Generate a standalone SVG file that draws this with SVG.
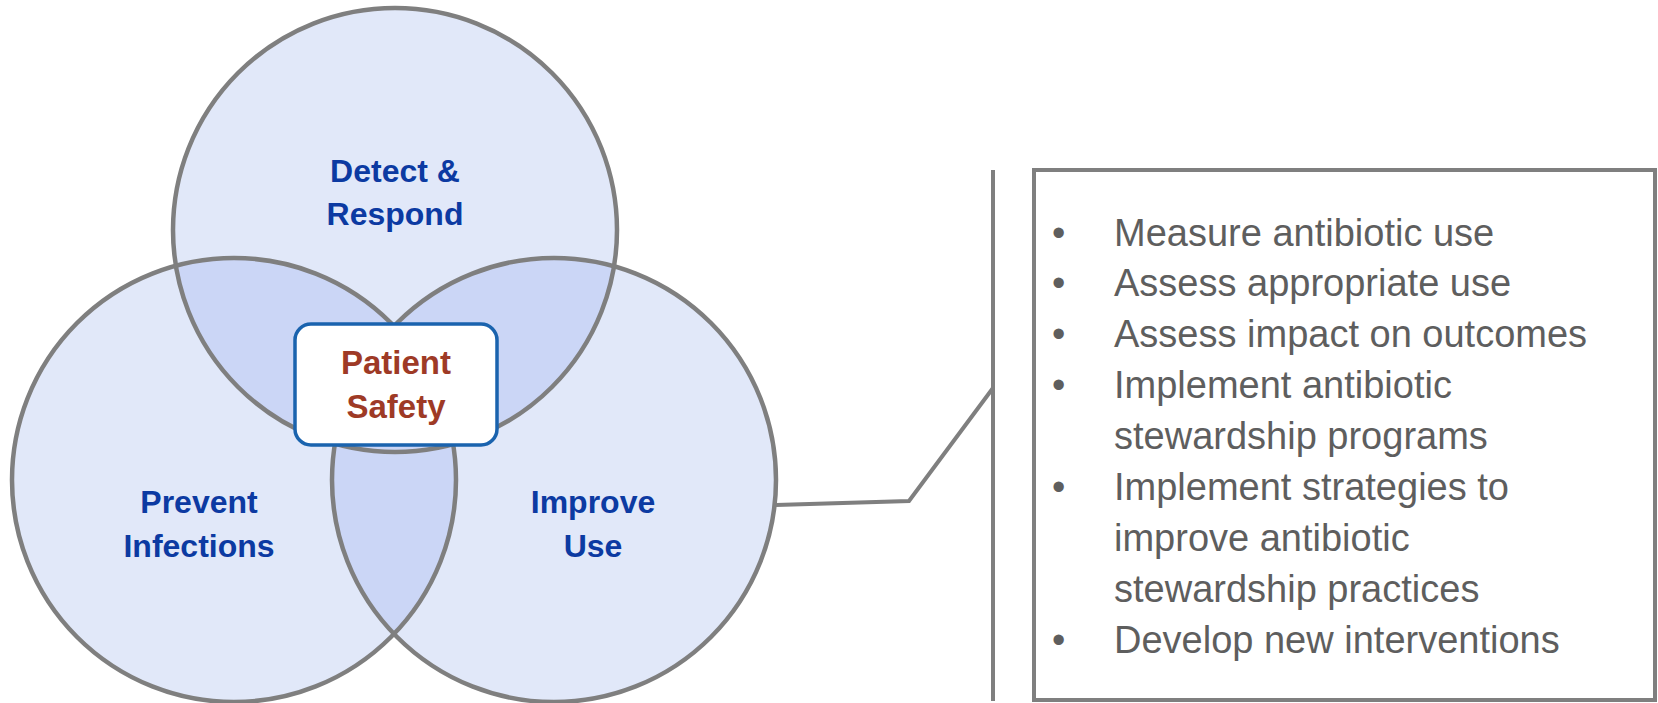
<svg xmlns="http://www.w3.org/2000/svg" width="1658" height="703" viewBox="0 0 1658 703">
  <style>
    .circ { fill: #E1E8F9; stroke: none; }
    .overlap { fill: #CBD6F6; stroke: none; }
    .outline { fill: none; stroke: #7F7F7F; stroke-width: 4.5; }
    .lbl { font-family: "Liberation Sans", Arial, sans-serif; font-weight: bold; font-size: 32px; fill: #0C3AA2; text-anchor: middle; }
    .ps { font-family: "Liberation Sans", Arial, sans-serif; font-weight: bold; font-size: 33px; fill: #9E3A26; text-anchor: middle; }
    .item { font-family: "Liberation Sans", Arial, sans-serif; font-size: 38px; fill: #5E5E5E; }
    .conn { fill: none; stroke: #7F7F7F; stroke-width: 4; stroke-linejoin: miter; }
  </style>
  <defs>
    <clipPath id="clipTop"><circle cx="395" cy="230" r="222"/></clipPath>
    <clipPath id="clipLeft"><circle cx="234" cy="480" r="222"/></clipPath>
    <clipPath id="clipRight"><circle cx="554" cy="480" r="222"/></clipPath>
  </defs>
  <rect width="1658" height="703" fill="#FFFFFF"/>

  <g id="circle-fills">
    <circle class="circ" cx="395" cy="230" r="222"/>
    <circle class="circ" cx="234" cy="480" r="222"/>
    <circle class="circ" cx="554" cy="480" r="222"/>
    <circle class="overlap" cx="234" cy="480" r="222" clip-path="url(#clipTop)"/>
    <circle class="overlap" cx="554" cy="480" r="222" clip-path="url(#clipTop)"/>
    <circle class="overlap" cx="554" cy="480" r="222" clip-path="url(#clipLeft)"/>
  </g>

  <g id="detect-respond">
    <circle class="outline" cx="395" cy="230" r="222"/>
    <text class="lbl" x="395" y="182">Detect &amp;</text>
    <text class="lbl" x="395" y="225">Respond</text>
  </g>

  <g id="prevent-infections">
    <circle class="outline" cx="234" cy="480" r="222"/>
    <text class="lbl" x="199" y="513">Prevent</text>
    <text class="lbl" x="199" y="557">Infections</text>
  </g>

  <g id="improve-use">
    <circle class="outline" cx="554" cy="480" r="222"/>
    <text class="lbl" x="593" y="513">Improve</text>
    <text class="lbl" x="593" y="557">Use</text>
  </g>

  <g id="patient-safety">
    <rect x="295" y="324" width="202" height="121" rx="16" ry="16" fill="#FFFFFF" stroke="#1A63AE" stroke-width="3.5"/>
    <text class="ps" x="396" y="374">Patient</text>
    <text class="ps" x="396" y="418">Safety</text>
  </g>

  <g id="connectors">
    <polyline class="conn" points="776,505 909,501 993,388"/>
    <line class="conn" x1="993" y1="170" x2="993" y2="701"/>
  </g>

  <g id="activities-box">
    <rect x="1034" y="170" width="621" height="530" fill="#FFFFFF" stroke="#7F7F7F" stroke-width="4"/>
    <g class="item">
      <text x="1052" y="246">•</text><text x="1114" y="246">Measure antibiotic use</text>
      <text x="1052" y="296">•</text><text x="1114" y="296">Assess appropriate use</text>
      <text x="1052" y="347">•</text><text x="1114" y="347">Assess impact on outcomes</text>
      <text x="1052" y="398">•</text><text x="1114" y="398">Implement antibiotic</text>
      <text x="1114" y="449">stewardship programs</text>
      <text x="1052" y="500">•</text><text x="1114" y="500">Implement strategies to</text>
      <text x="1114" y="551">improve antibiotic</text>
      <text x="1114" y="602">stewardship practices</text>
      <text x="1052" y="653">•</text><text x="1114" y="653">Develop new interventions</text>
    </g>
  </g>
</svg>
